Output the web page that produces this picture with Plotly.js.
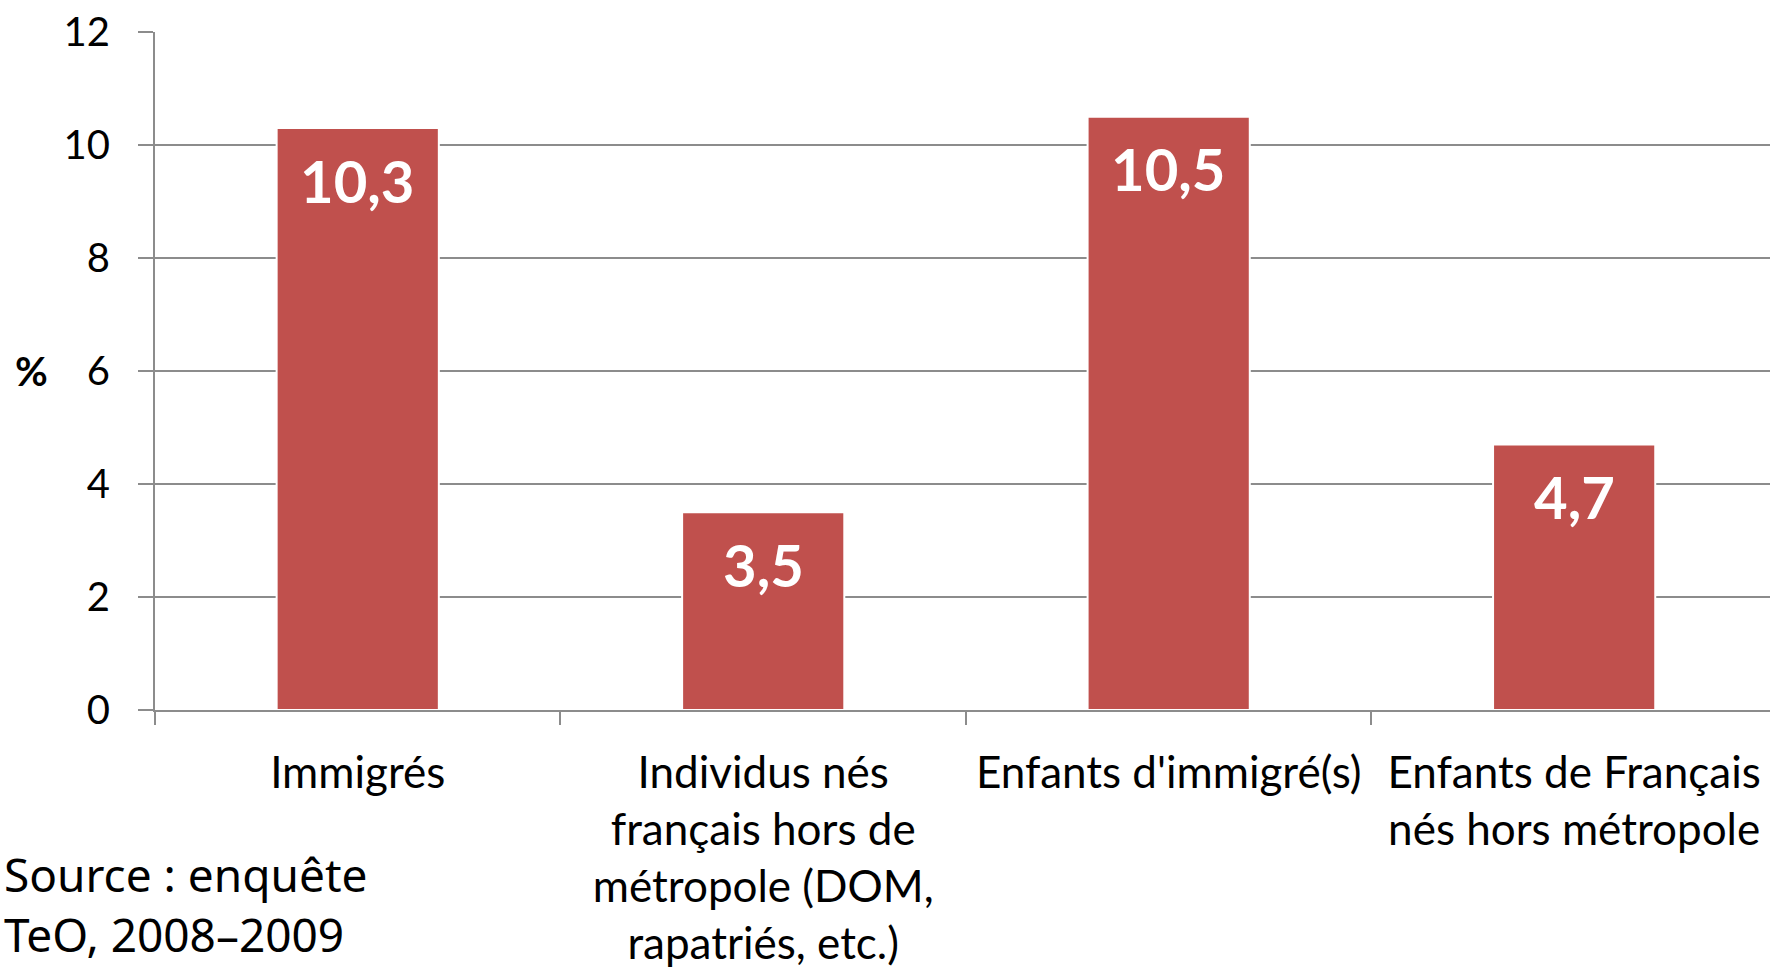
<!DOCTYPE html>
<html>
<head>
<meta charset="utf-8">
<script src="https://cdn.plot.ly/plotly-3.0.1.min.js"></script>
<style>html,body{margin:0;padding:0;background:#fff;overflow:hidden}</style>
</head>
<body>
<div id="chart" style="width:1770px;height:969px"></div>
<script>
const categories = [
  "Immigrés",
  "Individus nés<br>français hors de<br>métropole (DOM,<br>rapatriés, etc.)",
  "Enfants d'immigré(s)",
  "Enfants de Français<br>nés hors métropole"
];
const values = [10.3, 3.5, 10.5, 4.7];
const yTicks = [0, 2, 4, 6, 8, 10, 12];
const yAxisLabel = "%";
const sourceText = "Source : enquête<br>TeO, 2008–2009";

const barColor = "#C0504D";
const gridColor = "#8C8C8C";
const font = "Lato, 'Open Sans', sans-serif";

const trace = {
  type: "bar",
  x: categories,
  y: values,
  marker: { color: barColor, line: { color: "#ffffff", width: 2 } },
  hoverinfo: "skip"
};

const labelAnnotations = categories.map((c, i) => ({
  x: c, y: values[i], xref: "x", yref: "y",
  text: "<b>" + values[i].toString().replace(".", ",") + "</b>",
  showarrow: false, yanchor: "middle", xanchor: "center", yshift: -52,
  font: { family: font, size: 58, color: "#ffffff" }
}));

const layout = {
  width: 1770, height: 969,
  margin: { l: 155, r: 0, t: 32, b: 259, pad: 0 },
  paper_bgcolor: "#ffffff", plot_bgcolor: "#ffffff",
  showlegend: false,
  bargap: 0.6,
  font: { family: font, color: "#000000" },
  xaxis: {
    type: "category",
    range: [-0.5, 3.483],
    tickson: "boundaries",
    ticks: "outside", ticklen: 13, tickwidth: 2, tickcolor: gridColor,
    showline: true, linecolor: gridColor, linewidth: 2,
    showgrid: false, zeroline: false,
    tickfont: { family: font, size: 44, color: "#000000" },
    ticklabelstandoff: 23,
    fixedrange: true
  },
  yaxis: {
    range: [0, 12],
    tickvals: yTicks,
    ticktext: yTicks.map(String),
    ticks: "outside", ticklen: 15, tickwidth: 2, tickcolor: gridColor,
    showline: true, linecolor: gridColor, linewidth: 2,
    showgrid: true, gridcolor: gridColor, gridwidth: 2,
    zeroline: false,
    tickfont: { family: font, size: 40, color: "#000000" },
    ticklabelstandoff: 20,
    fixedrange: true
  },
  annotations: labelAnnotations.concat([
    {
      x: -0.0765, y: 6, xref: "paper", yref: "y",
      text: "<b>" + yAxisLabel + "</b>", showarrow: false,
      xanchor: "center", yanchor: "middle",
      font: { family: font, size: 40, color: "#000000" }
    },
    {
      x: -0.0945, y: -0.2855, xref: "paper", yref: "paper",
      text: sourceText, showarrow: false, align: "left",
      xanchor: "left", yanchor: "middle",
      font: { family: "'Noto Sans', sans-serif", size: 46, color: "#000000" }
    }
  ])
};

Plotly.newPlot("chart", [trace], layout, { displayModeBar: false, staticPlot: true });
</script>
</body>
</html>
